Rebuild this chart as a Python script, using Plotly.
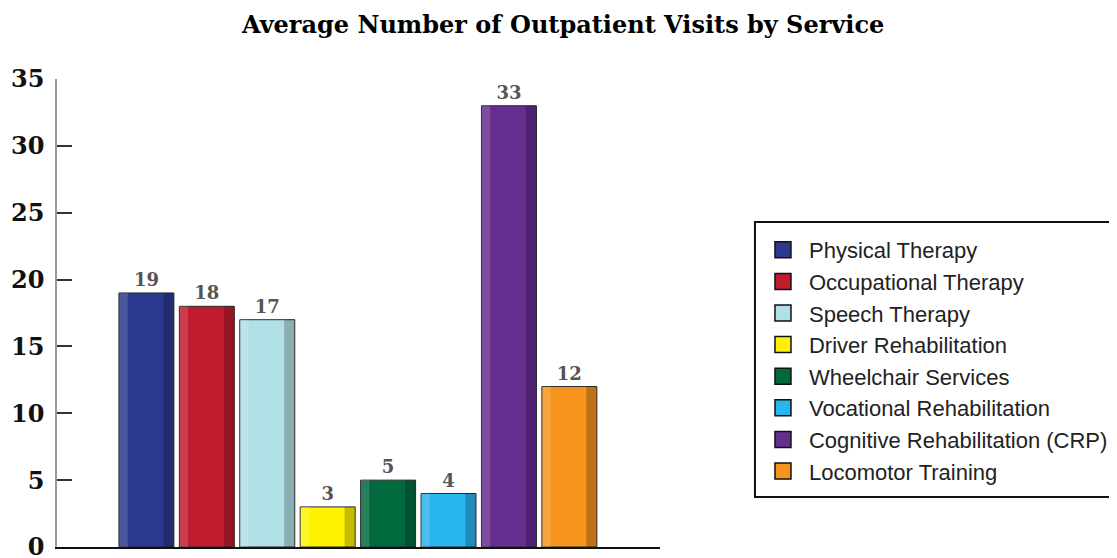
import plotly.graph_objects as go

services = ["Physical Therapy", "Occupational Therapy", "Speech Therapy",
            "Driver Rehabilitation", "Wheelchair Services", "Vocational Rehabilitation",
            "Cognitive Rehabilitation (CRP)", "Locomotor Training"]
visits = [19, 18, 17, 3, 5, 4, 33, 12]
colors = ["#2b3990", "#c01c2e", "#b0e0e6", "#fff200", "#00693e", "#29b5ef", "#662d91", "#f7941d"]
positions = list(range(len(services)))
y_ticks = [0, 5, 10, 15, 20, 25, 30, 35]

fig = go.Figure()
for i, (name, v, c) in enumerate(zip(services, visits, colors)):
    fig.add_trace(go.Bar(
        x=[positions[i]], y=[v], name=name, width=0.91,
        marker=dict(color=c, line=dict(color="#2a2a2a", width=1)),
        text=[v], texttemplate="%{y}", textposition="outside",
        textfont=dict(family="DejaVu Serif", size=18, color="#555555", weight="bold"),
        cliponaxis=False, showlegend=False, legendgroup=name,
    ))
    # right-side shading strip
    fig.add_trace(go.Bar(
        x=[positions[i]], y=[v], offset=0.28, width=0.17,
        marker=dict(color="rgba(0,0,0,0.22)", line=dict(width=0)),
        showlegend=False, hoverinfo="skip", legendgroup=name,
    ))
    # left highlight strip
    fig.add_trace(go.Bar(
        x=[positions[i]], y=[v], offset=-0.45, width=0.14,
        marker=dict(color="rgba(255,255,255,0.15)", line=dict(width=0)),
        showlegend=False, hoverinfo="skip", legendgroup=name,
    ))
    # legend swatch
    fig.add_trace(go.Scatter(
        x=[None], y=[None], mode="markers", name=name, legendgroup=name,
        marker=dict(symbol="square", size=16, color=c, line=dict(color="#111111", width=1.5)),
    ))

fig.update_layout(
    width=1117, height=558,
    barmode="overlay",
    paper_bgcolor="white", plot_bgcolor="white",
    margin=dict(l=49, r=465, t=71, b=19, autoexpand=False),
    title=dict(text="<b>Average Number of Outpatient Visits by Service</b>",
               x=0.497, xanchor="center", y=0.971, yanchor="middle",
               font=dict(family="DejaVu Serif", size=24, color="#000000")),
    xaxis=dict(range=[-1.48, 8.5], showgrid=False, zeroline=False,
               showline=True, linecolor="#111111", linewidth=2,
               tickvals=[-1.48, 8.5], ticks="inside", ticklen=10, tickcolor="#111111",
               tickwidth=1.5, showticklabels=False),
    yaxis=dict(range=[0, 35], tickvals=y_ticks, showgrid=False, zeroline=False,
               showline=True, linecolor="#9a9a9a", linewidth=1.5,
               ticks="inside", ticklen=15, tickcolor="#333333", tickwidth=1.5,
               ticklabelstandoff=6, ticklabeloverflow="allow",
               tickfont=dict(family="DejaVu Serif", size=24, color="#111111", weight="bold")),
    legend=dict(x=1.1575, xanchor="left", y=0.6838, yanchor="top",
                bordercolor="rgba(0,0,0,0)", borderwidth=2, bgcolor="rgba(0,0,0,0)",
                font=dict(family="Liberation Sans", size=22, color="#222222"),
                tracegroupgap=0, itemwidth=42),
    shapes=[dict(type="rect", xref="paper", yref="paper",
                 x0=1.1575, x1=1.85, y0=0.1068, y1=0.6944,
                 line=dict(color="#111111", width=2), fillcolor="rgba(0,0,0,0)", layer="below")],
    showlegend=True,
)

fig.write_html("out.html")
